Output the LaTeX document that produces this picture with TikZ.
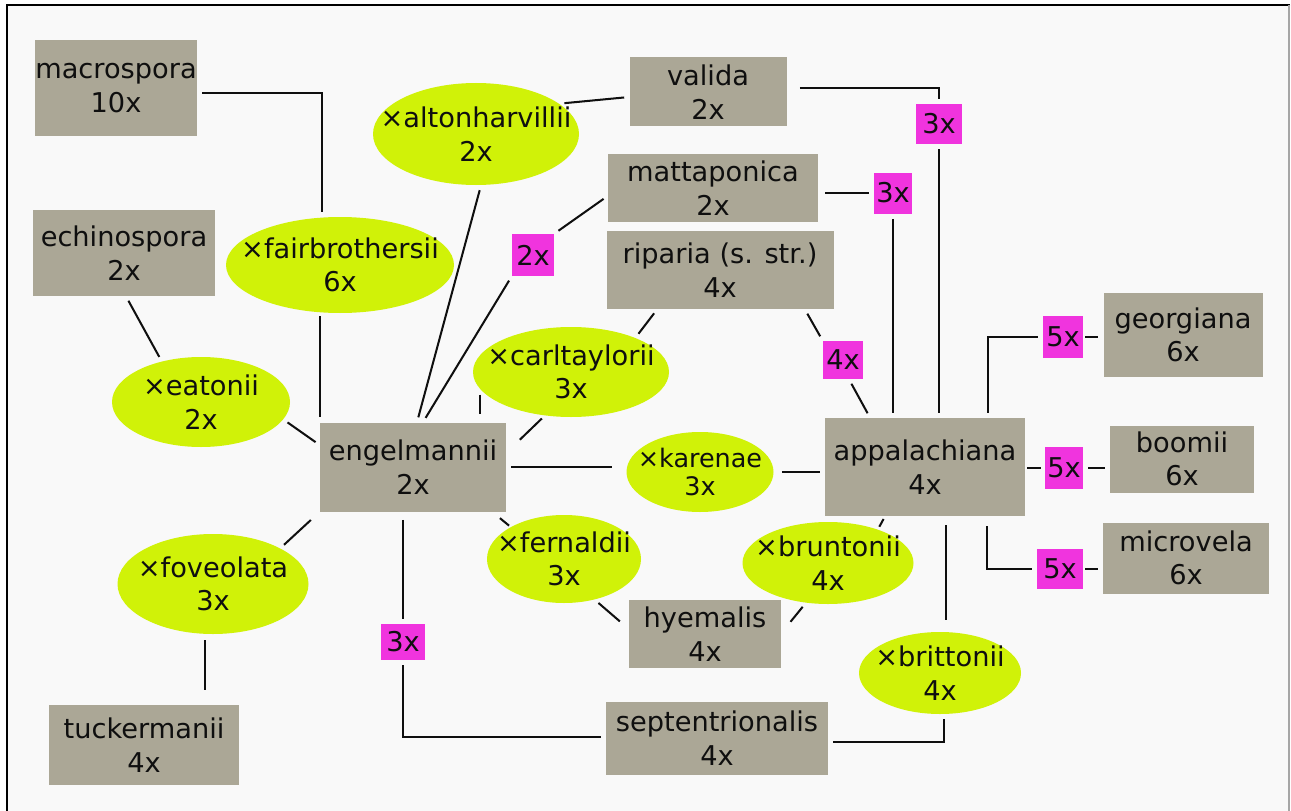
\documentclass[tikz,border=0pt]{standalone}
\usepackage{fontspec}
\setmainfont{DejaVu Sans}
\usetikzlibrary{shapes.geometric}
\definecolor{boxgray}{RGB}{171,167,150}
\definecolor{hybgreen}{RGB}{208,242,8}
\definecolor{tallypink}{RGB}{240,52,222}
\definecolor{panel}{RGB}{249,249,249}
\definecolor{ink}{RGB}{15,15,15}

\begin{document}
\begin{tikzpicture}[x=0.02cm,y=-0.02cm,
  sz/.style 2 args={minimum width=#1*0.02cm,minimum height=#2*0.02cm},
  species/.style={rectangle,fill=boxgray,inner sep=0pt,align=center,text=ink,font=\fontsize{15.5}{19}\selectfont},
  hybrid/.style={ellipse,fill=hybgreen,inner xsep=-0.7cm,inner ysep=-0.3cm,align=center,text=ink,font=\fontsize{15.5}{19}\selectfont},
  tally/.style={rectangle,fill=tallypink,inner sep=0pt,text=ink,font=\fontsize{15.5}{19}\selectfont},
  link/.style={line width=1.15pt,ink,shorten <=0.1cm,shorten >=0.1cm}]
\useasboundingbox (0,0) rectangle (1291,811);
\fill[white] (0,0) rectangle (1291,811);
\fill[panel] (7,5) rectangle (1290,811);
\draw[line width=1.4pt] (1290,5) -- (7,5) -- (7,811);
\draw[gray!70,line width=0.8pt] (1289,5) -- (1289,811);

\node[species,sz={162}{96}] (macrospora) at (116,88) {macrospora\\10x};
\node[species,sz={182}{86}] (echinospora) at (124,253) {echinospora\\2x};
\node[species,sz={157}{69}] (valida) at (708,92) {valida\\2x};
\node[species,sz={210}{68}] (mattaponica) at (713,188) {mattaponica\\2x};
\node[species,sz={227}{78}] (riparia) at (720,270) {riparia (s. str.)\\4x};
\node[species,sz={186}{89}] (engelmannii) at (413,467) {engelmannii\\2x};
\node[species,sz={200}{98}] (appalachiana) at (925,467) {appalachiana\\4x};
\node[species,sz={159}{84}] (georgiana) at (1183,335) {georgiana\\6x};
\node[species,sz={144}{67}] (boomii) at (1182,459) {boomii\\6x};
\node[species,sz={166}{71}] (microvela) at (1186,558) {microvela\\6x};
\node[species,sz={152}{68}] (hyemalis) at (705,634) {hyemalis\\4x};
\node[species,sz={222}{73}] (septentrionalis) at (717,738) {septentrionalis\\4x};
\node[species,sz={190}{80}] (tuckermanii) at (144,745) {tuckermanii\\4x};

\node[hybrid,sz={206}{102}] (altonharvillii) at (476,134) {×altonharvillii\\2x};
\node[hybrid,sz={228}{96}] (fairbrothersii) at (340,265) {×fairbrothersii\\6x};
\node[hybrid,sz={178}{90}] (eatonii) at (201,402) {×eatonii\\2x};
\node[hybrid,sz={196}{90}] (carltaylorii) at (571,372) {×carltaylorii\\3x};
\node[hybrid,sz={147}{80},font=\fontsize{14.5}{16}\selectfont] (karenae) at (700,472) {×karenae\\3x};
\node[hybrid,sz={154}{88}] (fernaldii) at (564,559) {×fernaldii\\3x};
\node[hybrid,sz={191}{100}] (foveolata) at (213,584) {×foveolata\\3x};
\node[hybrid,sz={171}{82}] (bruntonii) at (828,563) {×bruntonii\\4x};
\node[hybrid,sz={162}{82}] (brittonii) at (940,673) {×brittonii\\4x};

\node[tally,sz={42}{42}] (m2) at (533,255) {2x};
\node[tally,sz={46}{40}] (m3a) at (939,124) {3x};
\node[tally,sz={38}{41}] (m3b) at (893,193) {3x};
\node[tally,sz={40}{38}] (m4) at (843,360) {4x};
\node[tally,sz={40}{42}] (m5a) at (1063,337) {5x};
\node[tally,sz={38}{42}] (m5b) at (1064,468) {5x};
\node[tally,sz={46}{40}] (m5c) at (1060,569) {5x};
\node[tally,sz={44}{36}] (m3c) at (403,642) {3x};

\draw[link] ([shift={(0,5)}]macrospora.east) -| ([shift={(-18,0)}]fairbrothersii.north);
\draw[link,shorten <=0.06cm] (engelmannii.north west |- fairbrothersii.south) -- (engelmannii.north west);
\draw[link] ([shift={(2,0)}]echinospora.south) -- (eatonii.134);
\draw[link] (eatonii.-12) -- ([shift={(0,-22)}]engelmannii.west);
\draw[link,shorten <=0.24cm] (engelmannii.south west) -- (foveolata.28);
\draw[link,shorten <=0.12cm,shorten >=0.3cm] ([shift={(-8,0)}]foveolata.south) -- ([shift={(61,0)}]tuckermanii.north);
\draw[link] ([shift={(5,0)}]altonharvillii.south) -- ([shift={(4,0)}]engelmannii.north);
\draw[link] (altonharvillii.20) -- ([shift={(0,5)}]valida.west);
\draw[link] ([shift={(0,8)}]mattaponica.west) -- (m2.north east);
\draw[link] (m2.south west) -- ([shift={(10,0)}]engelmannii.north);
\draw[link,shorten <=0.26cm] ([shift={(0,-4)}]valida.east) -| (m3a.north);
\draw[link] (m3a.south) -- (m3a.south |- appalachiana.north);
\draw[link,shorten <=0.14cm] (m3b.west -| mattaponica.east) -- (m3b.west);
\draw[link] (m3b.south) -- (m3b.south |- appalachiana.north);
\draw[link] ([shift={(-29,0)}]riparia.south east) -- (m4.north west);
\draw[link] ([shift={(6,0)}]m4.south) -- ([shift={(-55,0)}]appalachiana.north);
\draw[link] ([shift={(51,0)}]riparia.south west) -- (carltaylorii.28);
\draw[link,shorten >=0.16cm] (carltaylorii.-169) -- (carltaylorii.-169 |- engelmannii.north);
\draw[link,shorten <=0.04cm,shorten >=0.08cm] ([shift={(12,19)}]engelmannii.north east) -- (carltaylorii.-121);
\draw[link,shorten >=0.28cm] (engelmannii.east) -- (engelmannii.east -| karenae.west);
\draw[link,shorten <=0.16cm] (karenae.east) -- (karenae.east -| appalachiana.west);
\draw[link,shorten <=0.04cm,shorten >=0.04cm] ([shift={(-8,5)}]engelmannii.south east) -- (fernaldii.149);
\draw[link] (fernaldii.-53) -- ([shift={(-5,25)}]hyemalis.north west);
\draw[link] (bruntonii.-119) -- ([shift={(6,26)}]hyemalis.north east);
\draw[link,shorten <=0.06cm,shorten >=0.06cm] (bruntonii.34) -- ([shift={(-40,0)}]appalachiana.south);
\draw[link,shorten <=0.16cm] (m3c.north |- engelmannii.south) -- (m3c.north);
\draw[link] (m3c.south) |- ([shift={(0,-1)}]septentrionalis.west);
\draw[link,shorten <=0.18cm,shorten >=0.24cm] ([shift={(21,0)}]appalachiana.south) -- ([shift={(6,0)}]brittonii.north);
\draw[link] ([shift={(4,0)}]brittonii.south) |- ([shift={(0,4)}]septentrionalis.east);
\draw[link] ([shift={(63,0)}]appalachiana.north) |- (m5a.west);
\draw[link,shorten <=0.04cm,shorten >=0.1cm] (m5a.east) -- (m5a.east -| georgiana.west);
\draw[link,shorten <=0.04cm,shorten >=0.08cm] (m5b.west -| appalachiana.east) -- (m5b.west);
\draw[link] (m5b.east) -- (m5b.east -| boomii.west);
\draw[link,shorten <=0.2cm] ([shift={(62,0)}]appalachiana.south) |- (m5c.west);
\draw[link,shorten <=0.04cm] (m5c.east) -- (m5c.east -| microvela.west);
\end{tikzpicture}
\end{document}
